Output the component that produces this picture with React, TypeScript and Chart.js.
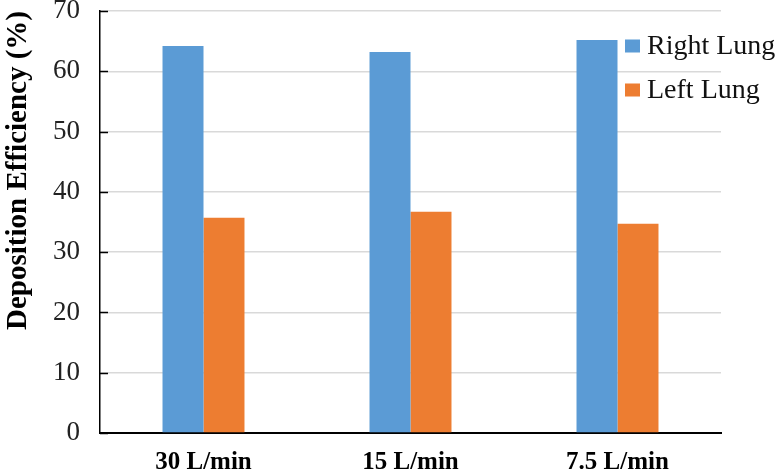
import React, { useEffect, useRef } from "react";
import { Chart, registerables } from "chart.js";

Chart.register(...registerables);

const categories = ["30 L/min", "15 L/min", "7.5 L/min"];
const rightLung = [64.2, 63.2, 65.2];
const leftLung = [35.7, 36.7, 34.7];
const seriesNames = ["Right Lung", "Left Lung"];
const seriesColors = ["#5B9BD5", "#ED7D31"];
const yTitle = "Deposition Efficiency (%)";

const SERIF = "'Liberation Serif', 'Times New Roman', serif";

const innerTicks = {
  id: "innerTicks",
  afterDatasetsDraw(chart: any) {
    const { ctx, chartArea } = chart;
    const y = chart.scales.y;
    ctx.save();
    ctx.strokeStyle = "#000";
    ctx.lineWidth = 1.5;
    y.ticks.forEach((t: any) => {
      const py = Math.round(y.getPixelForValue(t.value)) + 0.5;
      ctx.beginPath();
      ctx.moveTo(chartArea.left, py);
      ctx.lineTo(chartArea.left + 8, py);
      ctx.stroke();
    });
    ctx.restore();
  },
};

const customLegend = {
  id: "customLegend",
  afterDraw(chart: any) {
    const { ctx, chartArea } = chart;
    const x0 = chartArea.right - 96;
    ctx.save();
    ctx.font = `28px ${SERIF}`;
    ctx.textBaseline = "middle";
    ctx.textAlign = "left";
    chart.data.datasets.forEach((ds: any, i: number) => {
      const cy = chartArea.top + 35 + i * 44;
      ctx.fillStyle = ds.backgroundColor;
      ctx.fillRect(x0, cy - 6.5, 15, 13);
      ctx.fillStyle = "#111";
      ctx.fillText(ds.label, x0 + 22, cy + 1);
    });
    ctx.restore();
  },
};

export default function App() {
  const ref = useRef<HTMLCanvasElement | null>(null);
  useEffect(() => {
    document.body.style.margin = "0";
    const canvas = ref.current;
    if (!canvas) return;
    const chart = new Chart(canvas, {
      type: "bar",
      data: {
        labels: categories,
        datasets: [
          { label: seriesNames[0], data: rightLung, backgroundColor: seriesColors[0] },
          { label: seriesNames[1], data: leftLung, backgroundColor: seriesColors[1] },
        ],
      },
      options: {
        responsive: false,
        animation: false,
        devicePixelRatio: 1,
        datasets: { bar: { categoryPercentage: 0.396, barPercentage: 1 } },
        layout: { padding: { top: 0, right: 63, left: 0, bottom: 0 } },
        plugins: {
          legend: { display: false },
          tooltip: { enabled: false },
        },
        scales: {
          x: {
            grid: { display: false, drawTicks: false },
            border: { display: true, color: "#000", width: 2 },
            ticks: {
              color: "#000",
              padding: 15,
              font: { family: SERIF, size: 25, weight: "bold" },
            },
            afterFit(scale: any) {
              scale.height = 41;
            },
          },
          y: {
            min: 0,
            max: 70,
            ticks: {
              stepSize: 10,
              color: "#222",
              padding: 20,
              font: { family: SERIF, size: 27 },
            },
            grid: { color: "#d9d9d9", lineWidth: 1.5, drawTicks: false },
            border: { display: true, color: "#000", width: 1.5 },
            title: {
              display: true,
              text: yTitle,
              align: "end",
              color: "#000",
              padding: { top: 1, bottom: 0 },
              font: { family: SERIF, size: 29, weight: "bold" },
            },
            afterFit(scale: any) {
              scale.width = 100;
              scale.paddingTop = 11;
            },
          },
        },
      },
      plugins: [innerTicks, customLegend],
    } as any);
    return () => chart.destroy();
  }, []);
  return (
    <div style={{ width: 784, height: 474 }}>
      <canvas ref={ref} width={784} height={474} style={{ display: "block" }} />
    </div>
  );
}
